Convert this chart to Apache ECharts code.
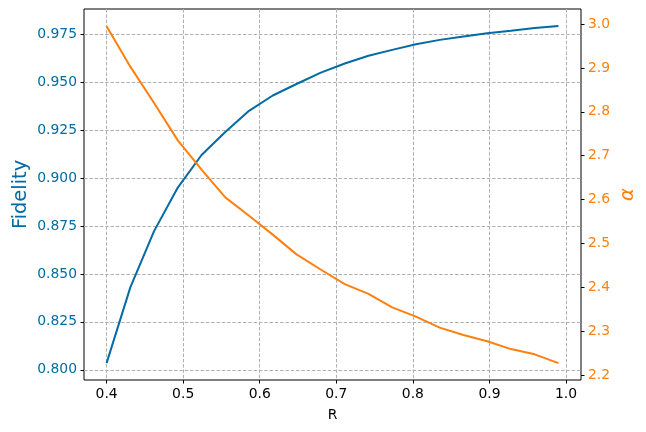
<!DOCTYPE html>
<html>
<head>
<meta charset="utf-8">
<script src="https://cdn.jsdelivr.net/npm/echarts@6/dist/echarts.min.js"></script>
<style>
  html, body { margin: 0; padding: 0; background: #fff; }
  #chart { width: 646px; height: 432px; }
</style>
</head>
<body>
<div id="chart"></div>
<script>
// R values (20 points, 0.4 .. 0.99)
const rValues = [0.400, 0.431, 0.462, 0.493, 0.524, 0.555, 0.586, 0.617, 0.648, 0.679,
                 0.711, 0.742, 0.773, 0.804, 0.835, 0.866, 0.897, 0.928, 0.959, 0.990]
// fidelity (left axis)
const fidelity = [0.8035, 0.843, 0.8723, 0.895, 0.912, 0.924, 0.935, 0.943, 0.949, 0.9548,
                  0.9597, 0.9637, 0.9668, 0.9697, 0.9720, 0.9738, 0.9755, 0.9768, 0.9782, 0.9793]
// alpha (right axis)
const alpha = [2.995, 2.903, 2.820, 2.735, 2.668, 2.605, 2.563, 2.520, 2.475, 2.441,
               2.407, 2.385, 2.354, 2.333, 2.308, 2.291, 2.277, 2.259, 2.247, 2.227]

// [first tick, last tick, step]
const xTicks = [0.4, 1.0, 0.1]
const fTicks = [0.8, 0.975, 0.025]
const aTicks = [2.2, 3.0, 0.1]

const blue = '#006BA4'
const orange = '#FF800E'
const font = 'DejaVu Sans'

// plot area in pixels and data limits (matplotlib style 5% margins)
const W = 646, H = 432
const plot = {left: 84, right: 581, top: 9, bottom: 380}
const xLim = [0.3705, 1.0195]
const fLim = [0.7947, 0.9881]
const aLim = [2.1885, 3.0345]

const xPix = v => plot.left + (v - xLim[0]) / (xLim[1] - xLim[0]) * (plot.right - plot.left)
const fPix = v => plot.bottom - (v - fLim[0]) / (fLim[1] - fLim[0]) * (plot.bottom - plot.top)
const aPix = v => plot.bottom - (v - aLim[0]) / (aLim[1] - aLim[0]) * (plot.bottom - plot.top)

const off = () => ({show: false})
const noLine = () => ({show: false, onZero: false})
const dashed = () => ({show: true, lineStyle: {color: '#b0b0b0', width: 1, type: [3.5, 1.8]}})
const tick = () => ({show: true, length: 3.5, lineStyle: {color: '#000', width: 1}})
// axis that only exists to carry a name (or nothing)
const bare = extra => Object.assign({type: 'value', axisLine: noLine(), axisTick: off(),
  axisLabel: off(), splitLine: off()}, extra)

const chart = echarts.init(document.getElementById('chart'))
chart.setOption({
  animation: false,
  backgroundColor: '#fff',
  textStyle: {fontFamily: font},
  grid: [
    // 0: data + frame
    {left: plot.left, right: W - plot.right, top: plot.top, bottom: H - plot.bottom,
      show: true, borderColor: '#000', borderWidth: 1},
    // 1: x ticks
    {left: xPix(xTicks[0]), right: W - xPix(xTicks[1]), top: plot.top, bottom: H - plot.bottom},
    // 2: left y ticks
    {left: plot.left, right: W - plot.right, top: fPix(fTicks[1]), bottom: H - fPix(fTicks[0])},
    // 3: right y ticks
    {left: plot.left, right: W - plot.right, top: aPix(aTicks[1]), bottom: H - aPix(aTicks[0])}
  ],
  xAxis: [
    bare({gridIndex: 0, min: xLim[0], max: xLim[1],
      name: 'R', nameLocation: 'middle', nameGap: 28,
      nameTextStyle: {fontSize: 13.9, color: '#000', fontFamily: font}}),
    {gridIndex: 1, type: 'value', min: xTicks[0], max: xTicks[1], interval: xTicks[2],
      axisLine: noLine(), axisTick: tick(), splitLine: dashed(),
      axisLabel: {fontSize: 13.9, color: '#000', margin: 7, fontFamily: font,
        formatter: v => v.toFixed(1)}},
    bare({gridIndex: 2, min: 0, max: 1}),
    bare({gridIndex: 3, min: 0, max: 1})
  ],
  yAxis: [
    bare({gridIndex: 0, min: fLim[0], max: fLim[1], position: 'left',
      name: 'Fidelity', nameLocation: 'middle', nameGap: 54, nameRotate: 90,
      nameTextStyle: {fontSize: 19.4, color: blue, fontFamily: font}}),
    bare({gridIndex: 0, min: aLim[0], max: aLim[1], position: 'right',
      name: 'α', nameLocation: 'middle', nameGap: 37, nameRotate: 90,
      nameTextStyle: {fontSize: 19.4, color: orange, fontStyle: 'italic', fontFamily: font}}),
    bare({gridIndex: 1, min: 0, max: 1}),
    {gridIndex: 2, type: 'value', min: fTicks[0], max: fTicks[1], interval: fTicks[2],
      position: 'left', axisLine: noLine(), axisTick: tick(), splitLine: dashed(),
      axisLabel: {fontSize: 13.9, color: blue, margin: 7, fontFamily: font,
        formatter: v => v.toFixed(3)}},
    {gridIndex: 3, type: 'value', min: aTicks[0], max: aTicks[1], interval: aTicks[2],
      position: 'right', axisLine: noLine(), axisTick: tick(), splitLine: off(),
      axisLabel: {fontSize: 13.9, color: orange, margin: 7, fontFamily: font,
        formatter: v => v.toFixed(1)}}
  ],
  series: [
    {type: 'line', xAxisIndex: 0, yAxisIndex: 0, symbol: 'none', z: 3,
      lineStyle: {color: blue, width: 2},
      data: rValues.map((r, i) => [r, fidelity[i]])},
    {type: 'line', xAxisIndex: 0, yAxisIndex: 1, symbol: 'none', z: 3,
      lineStyle: {color: orange, width: 2},
      data: rValues.map((r, i) => [r, alpha[i]])}
  ]
})
</script>
</body>
</html>
